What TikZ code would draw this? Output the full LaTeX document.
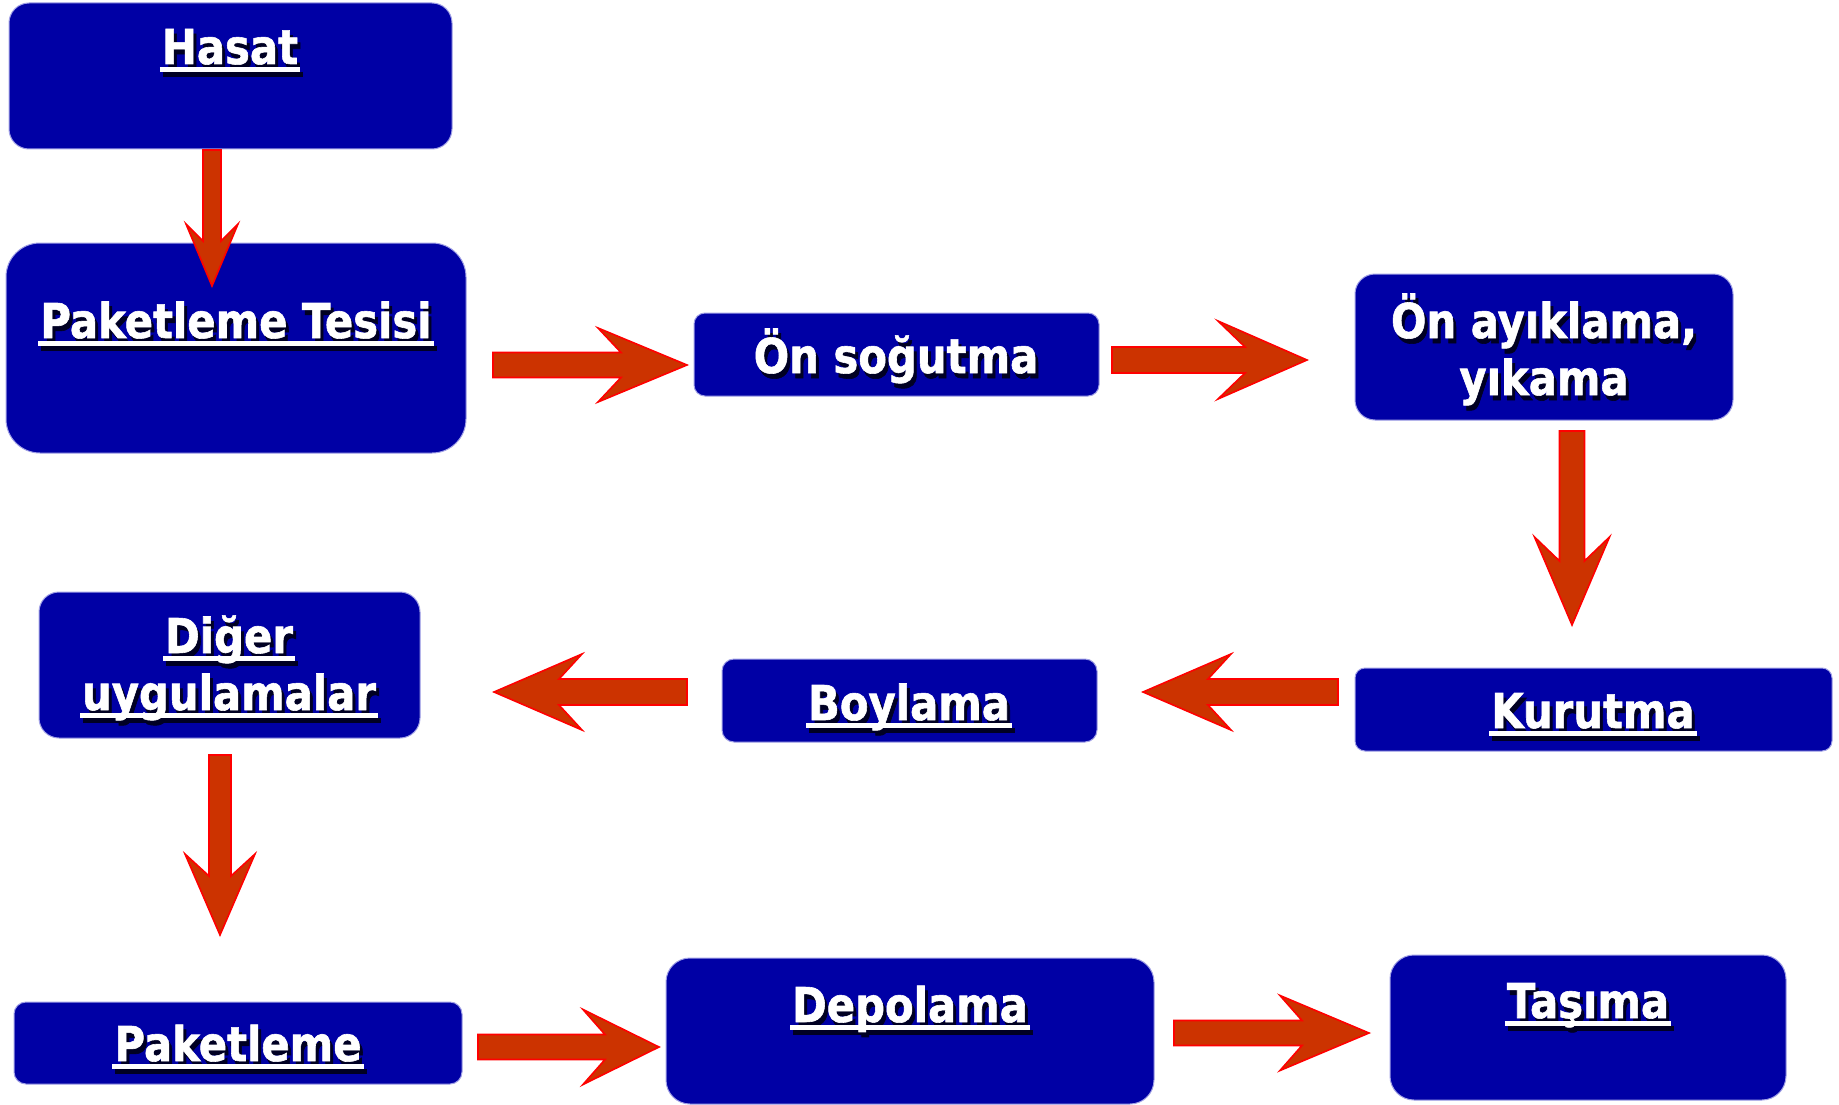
\documentclass[tikz,border=0pt]{standalone}
\usepackage{fontspec}
\usetikzlibrary{calc}
\newfontfamily\lblfont{DejaVu Sans}[FakeStretch=0.87,BoldFeatures={FakeBold=1.2}]
\definecolor{boxblue}{RGB}{0,0,165}
\definecolor{boxedge}{RGB}{160,160,230}
\definecolor{arrfill}{RGB}{204,51,0}
\definecolor{shadowc}{RGB}{0,0,35}
\newlength\ulw
\newcommand\shd[1]{\rlap{\kern3pt\raisebox{-5pt}{\color{shadowc}#1}}{\color{white}#1}}
\newcommand\uln[1]{\settowidth\ulw{#1}\rlap{\kern-2pt\rule[-8pt]{\dimexpr\ulw+4pt\relax}{5pt}}#1}
% block arrow: from, to, shaft half-width, head half-width, head length, joint distance from tip
\newcommand\barrow[6]{%
  \filldraw[arrsty]
    ($(#1)!#3pt!90:(#2)$) --
    ($(#2)!#6pt!(#1)!#3pt!-90:(#1)$) --
    ($(#2)!#5pt!(#1)!#4pt!-90:(#1)$) --
    (#2) --
    ($(#2)!#5pt!(#1)!#4pt!90:(#1)$) --
    ($(#2)!#6pt!(#1)!#3pt!90:(#1)$) --
    ($(#1)!#3pt!-90:(#2)$) -- cycle;}
\tikzset{
  box/.style={draw=boxedge, line width=1pt, fill=boxblue, inner sep=0pt, outer sep=0pt, anchor=north west},
  lbl/.style={anchor=base, inner sep=0pt, align=center,
    font=\lblfont\bfseries\fontsize{48pt}{57pt}\selectfont},
  arrsty/.style={fill=arrfill, draw=red, line width=1.6pt, line join=miter}
}
\begin{document}
\begin{tikzpicture}[x=1pt,y=-1pt]
\fill[white] (0,0) rectangle (1839,1105);
\useasboundingbox (0,0) rectangle (1839,1105);
% boxes
\node[box, rounded corners=20pt, minimum width=443pt, minimum height=146pt] (hasat) at (9,3) {};
\node[box, rounded corners=34pt, minimum width=460pt, minimum height=210pt] (tesis) at (6,243) {};
\node[box, rounded corners=11pt, minimum width=405pt, minimum height=83pt] (onsog) at (694,313) {};
\node[box, rounded corners=20pt, minimum width=378pt, minimum height=146pt] (onayk) at (1355,274) {};
\node[box, rounded corners=10pt, minimum width=477pt, minimum height=83pt] (kurut) at (1355,668) {};
\node[box, rounded corners=12pt, minimum width=375pt, minimum height=83pt] (boyla) at (722,659) {};
\node[box, rounded corners=20pt, minimum width=381pt, minimum height=146pt] (diger) at (39,592) {};
\node[box, rounded corners=12pt, minimum width=448pt, minimum height=82pt] (paket) at (14,1002) {};
\node[box, rounded corners=24pt, minimum width=488pt, minimum height=146pt] (depol) at (666,958) {};
\node[box, rounded corners=24pt, minimum width=396pt, minimum height=145pt] (tasim) at (1390,955) {};
% arrow end points
\coordinate (a1s) at (212,150);  \coordinate (a1e) at (212,286);
\coordinate (a2s) at (493,365);  \coordinate (a2e) at (687,365);
\coordinate (a3s) at (1112,360); \coordinate (a3e) at (1307,360);
\coordinate (a4s) at (1572,431); \coordinate (a4e) at (1572,625);
\coordinate (a5s) at (1338,692); \coordinate (a5e) at (1143,692);
\coordinate (a6s) at (687,692);  \coordinate (a6e) at (494,692);
\coordinate (a7s) at (220,755);  \coordinate (a7e) at (220,935);
\coordinate (a8s) at (478,1047); \coordinate (a8e) at (659,1047);
\coordinate (a9s) at (1174,1033);\coordinate (a9e) at (1369,1033);
% arrows
\barrow{a1s}{a1e}{9}{26}{62}{45}
\barrow{a2s}{a2e}{12.5}{37}{89}{66}
\barrow{a3s}{a3e}{13}{39}{89}{62}
\barrow{a4s}{a4e}{12.5}{37.5}{88}{64}
\barrow{a5s}{a5e}{13}{38}{88}{65}
\barrow{a6s}{a6e}{13}{38}{88}{65}
\barrow{a7s}{a7e}{11}{35}{81}{59}
\barrow{a8s}{a8e}{12.5}{37.5}{76}{54}
\barrow{a9s}{a9e}{12.5}{37.5}{89}{67}
% labels
\node[lbl] (hasat-t) at (230,64) {\shd{\uln{Hasat}}};
\node[lbl] (tesis-t) at (236,338) {\shd{\uln{Paketleme Tesisi}}};
\node[lbl] (onsog-t) at (896,373) {\shd{Ön soğutma}};
\node[lbl] (onayk-t) at (1544,395) {\shd{Ön ayıklama,}\\\shd{yıkama}};
\node[lbl] (kurut-t) at (1593,728) {\shd{\uln{Kurutma}}};
\node[lbl] (boyla-t) at (909,720) {\shd{\uln{Boylama}}};
\node[lbl] (diger-t) at (229,710) {\shd{\uln{Diğer}}\\\shd{\uln{uygulamalar}}};
\node[lbl] (paket-t) at (238,1061) {\shd{\uln{Paketleme}}};
\node[lbl] (depol-t) at (910,1022) {\shd{\uln{Depolama}}};
\node[lbl] (tasim-t) at (1588,1018) {\shd{\uln{Taşıma}}};
\end{tikzpicture}
\end{document}
